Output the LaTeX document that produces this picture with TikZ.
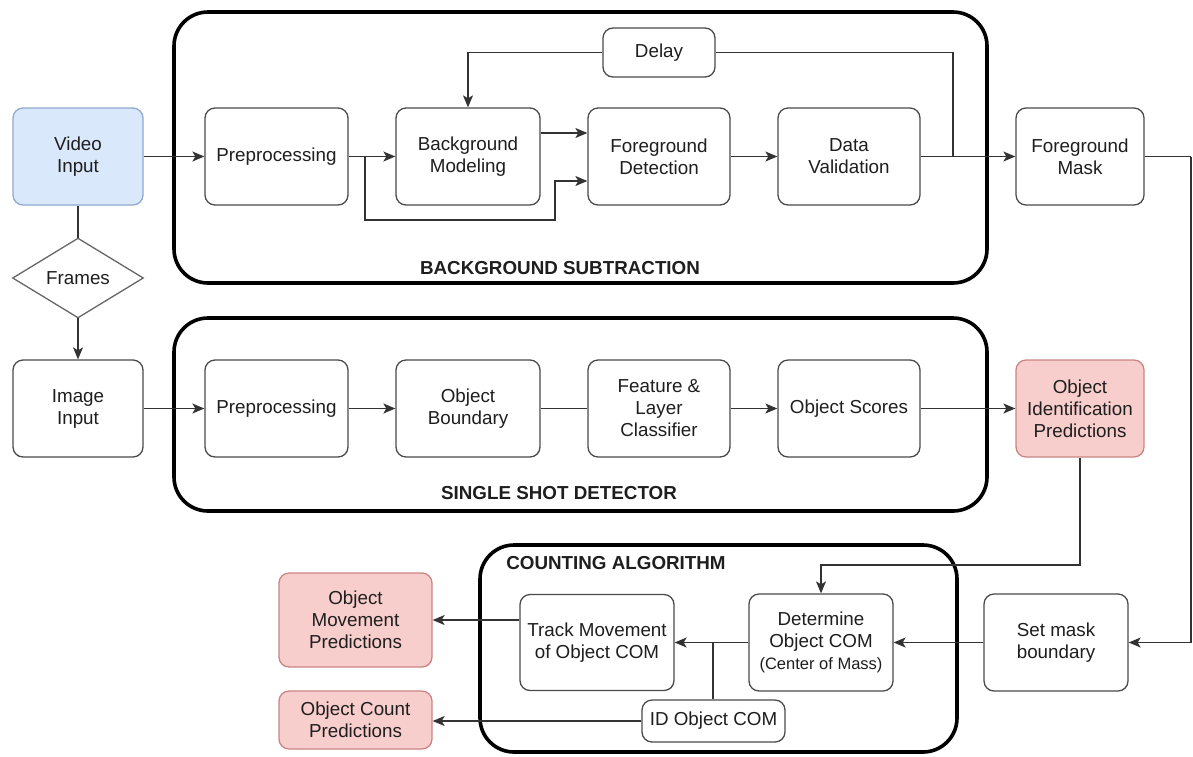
\documentclass[tikz,border=0pt]{standalone}
\usepackage{fontspec}
\setmainfont{Liberation Sans}
\usetikzlibrary{arrows.meta,calc}
\definecolor{boxc}{HTML}{4A4A4A}
\definecolor{linec}{HTML}{333333}
\definecolor{txtc}{HTML}{1E1E1E}
\definecolor{bluef}{HTML}{DAE8FC}
\definecolor{blued}{HTML}{8FA9CF}
\definecolor{redf}{HTML}{F8CECC}
\definecolor{redd}{HTML}{C98583}
\newcommand{\fsz}{\fontsize{18.8}{22}\selectfont}
\newcommand{\fsm}{\fontsize{16.5}{20}\selectfont}
\tikzset{
  box/.style={draw=boxc, line width=1.3pt, rounded corners=10pt, fill=white,
    align=center, inner sep=0pt, font=\fsz, text=txtc},
  bluebox/.style={box, fill=bluef, draw=blued},
  redbox/.style={box, fill=redf, draw=redd},
  group/.style={draw=black, line width=3.6pt, rounded corners=34pt},
  grouplabel/.style={font=\fsz\bfseries, text=txtc, inner sep=0pt},
  arr/.style={-{Stealth[length=12pt,width=10pt,inset=3pt]}, line width=1.3pt, draw=linec},
  ln/.style={line width=1.3pt, draw=linec},
}
\begin{document}
\begin{tikzpicture}[x=1pt,y=-1pt]
\useasboundingbox (0,0) rectangle (1193,756);
% containers
\draw[group] (174,12) rectangle (987,283);
\draw[group] (174,318) rectangle (987,511);
\draw[group] (480,545) rectangle (957,752);
\node[grouplabel] (lbs) at (560,268) {BACKGROUND SUBTRACTION};
\node[grouplabel] (lssd) at (559,493) {SINGLE SHOT DETECTOR};
\node[grouplabel] (lca) at (616,563) {COUNTING ALGORITHM};

% row 1
\node[bluebox, minimum width=130pt, minimum height=97pt] (vid) at (78,156.5) {Video\\Input};
\node[box, minimum width=143pt, minimum height=97pt] (pre1) at (276.5,156.5) {Preprocessing};
\node[box, minimum width=144pt, minimum height=97pt] (bgm) at (468,156.5) {Background\\Modeling};
\node[box, minimum width=142pt, minimum height=97pt] (fgd) at (659,156.5) {Foreground\\Detection};
\node[box, minimum width=142pt, minimum height=97pt] (dv) at (849,156.5) {Data\\Validation};
\node[box, minimum width=128pt, minimum height=97pt] (fgm) at (1080,156.5) {Foreground\\Mask};
\node[box, minimum width=112pt, minimum height=49pt] (delay) at (659,52.5) {Delay};

% frames diamond
\node[minimum width=130pt, minimum height=79pt, inner sep=0pt, font=\fsz, text=txtc] (fr) at (78,278) {Frames};
\draw[draw=gray!80!black, line width=1.3pt] (fr.north) -- (fr.east) -- (fr.south) -- (fr.west) -- cycle;

% row 2
\node[box, minimum width=130pt, minimum height=97pt] (img) at (78,408.5) {Image\\Input};
\node[box, minimum width=143pt, minimum height=97pt] (pre2) at (276.5,408.5) {Preprocessing};
\node[box, minimum width=144pt, minimum height=97pt] (ob) at (468,408.5) {Object\\Boundary};
\node[box, minimum width=142pt, minimum height=97pt] (fl) at (659,408.5) {Feature \&\\Layer\\Classifier};
\node[box, minimum width=142pt, minimum height=97pt] (os) at (849,408.5) {Object Scores};
\node[redbox, minimum width=128pt, minimum height=97pt] (oip) at (1080,408.5) {Object\\Identification\\Predictions};

% row 3
\node[box, minimum width=154pt, minimum height=96pt] (tm) at (597,642.5) {Track Movement\\of Object COM};
\node[box, minimum width=144pt, minimum height=97pt] (dc) at (821,642.5) {Determine\\Object COM\\{\fsm(Center of Mass)}};
\node[box, minimum width=144pt, minimum height=97pt] (smb) at (1056,642.5) {Set mask\\boundary};
\node[box, minimum width=143pt, minimum height=42pt] (id) at (713.5,721) {ID Object COM};
\node[redbox, minimum width=153pt, minimum height=94pt] (omp) at (355.5,620) {Object\\Movement\\Predictions};
\node[redbox, minimum width=153pt, minimum height=58pt] (ocp) at (355.5,720) {Object Count\\Predictions};

% coordinates
\coordinate (j1) at (365,156.5);
\coordinate (j2) at (953,156.5);
\coordinate (rt) at (1191,156.5);
\coordinate (rb) at (1191,642.5);
\coordinate (j3) at (713,642.5);

% connectors row 1
\draw[arr] (vid.east) -- (pre1.west);
\draw[arr] (pre1.east) -- (bgm.west);
\draw[arr] (j1) -- (365,220) -- (555,220) -- (555,181) -- (fgd.west |- 0,181);
\draw[arr] (bgm.east |- 0,133) -- (fgd.west |- 0,133);
\draw[arr] (fgd.east) -- (dv.west);
\draw[arr] (dv.east) -- (fgm.west);
\draw[ln] (j2) -- (j2 |- delay.east) -- (delay.east);
\draw[arr] (delay.west) -- (bgm.north |- delay.west) -- (bgm.north);
\draw[ln] (fgm.east) -- (rt);
\draw[arr] (rt) -- (rb) -- (smb.east);

% frames
\draw[ln] (vid.south) -- (fr.north);
\draw[arr] (fr.south) -- (img.north);

% row 2
\draw[arr] (img.east) -- (pre2.west);
\draw[arr] (pre2.east) -- (ob.west);
\draw[ln] (ob.east) -- (fl.west);
\draw[arr] (fl.east) -- (os.west);
\draw[arr] (os.east) -- (oip.west);
\draw[arr] (oip.south) -- (1080,565) -- (821,565) -- (dc.north);

% row 3
\draw[arr] (smb.west) -- (dc.east);
\draw[arr] (dc.west) -- (tm.east);
\draw[ln] (j3) -- (id.north -| j3);
\draw[arr] (tm.west |- omp.east) -- (omp.east);
\draw[arr] (id.west) -- (ocp.east |- id.west);
\end{tikzpicture}
\end{document}
